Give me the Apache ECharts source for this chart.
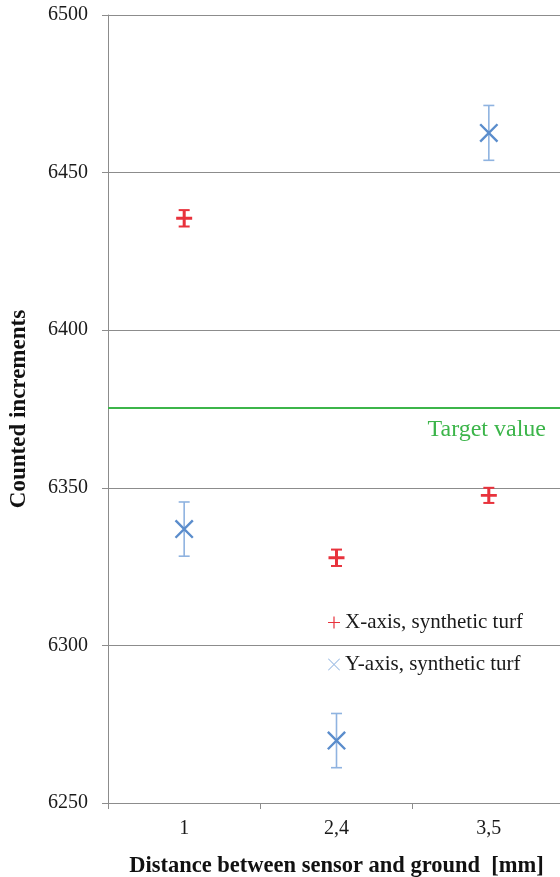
<!DOCTYPE html>
<html>
<head>
<meta charset="utf-8">
<script src="https://cdn.jsdelivr.net/npm/echarts@6/dist/echarts.min.js"></script>
<style>
  html, body { margin: 0; padding: 0; background: #fff; }
  #chart { width: 560px; height: 877px; }
</style>
</head>
<body>
<div id="chart"></div>
<script>
// Sensor distance categories (x axis)
const categories = ['1', '2,4', '3,5'];

// X-axis measurements on synthetic turf: mean and half error bar
const xAxisMeans = [6435.5, 6327.8, 6347.6];
const xAxisErrors = [2.6, 2.6, 2.4];

// Y-axis measurements on synthetic turf: mean and half error bar
const yAxisMeans = [6336.9, 6269.8, 6462.6];
const yAxisErrors = [8.6, 8.6, 8.7];

// Reference count
const targetValue = 6375.5;

// Value axis range
const yMin = 6250;
const yMax = 6500;
const yStep = 50;

const FONT = "'Liberation Serif', 'Times New Roman', serif";
const RED = '#e8323c';
const BLUE = '#5b8dcc';
const BLUE_LIGHT = '#8fb3e0';
const GREEN = '#3cb54a';

const plusPath = 'path://M0,5.7H14V8.3H0Z M5.7,0H8.3V14H5.7Z';
const crossPath = 'path://M0,1.8L1.8,0L20,18.2L18.2,20Z M18.2,0L20,1.8L1.8,20L0,18.2Z';
const plusThin = 'path://M0,6.3H14V7.7H0Z M6.3,0H7.7V14H6.3Z';
const crossThin = 'path://M0,1L1,0L20,19L19,20Z M19,0L20,1L1,20L0,19Z';

function errorData(means, errs) {
  return means.map((m, i) => [i, m - errs[i], m + errs[i]]);
}

function errorBarRenderer(color, width) {
  return function (params, api) {
    const lo = api.coord([api.value(0), api.value(1)]);
    const hi = api.coord([api.value(0), api.value(2)]);
    const half = 5.5;
    const style = { stroke: color, lineWidth: width };
    return {
      type: 'group',
      children: [
        { type: 'line', shape: { x1: lo[0], y1: lo[1], x2: hi[0], y2: hi[1] }, style },
        { type: 'line', shape: { x1: hi[0] - half, y1: hi[1], x2: hi[0] + half, y2: hi[1] }, style },
        { type: 'line', shape: { x1: lo[0] - half, y1: lo[1], x2: lo[0] + half, y2: lo[1] }, style }
      ]
    };
  };
}

const chart = echarts.init(document.getElementById('chart'), null, { renderer: 'canvas' });

chart.setOption({
  animation: false,
  backgroundColor: '#fff',
  textStyle: { fontFamily: FONT, color: '#1a1a1a' },
  grid: { left: 108, top: 15, right: -5, bottom: 74, containLabel: false, outerBoundsMode: 'none' },
  legend: {
    orient: 'vertical',
    left: 323,
    top: 607,
    itemWidth: 12,
    itemHeight: 12,
    itemGap: 21,
    textStyle: { fontFamily: FONT, fontSize: 21, color: '#1a1a1a' },
    data: [
      { name: 'X-axis, synthetic turf', icon: plusThin, itemStyle: { color: RED } },
      { name: 'Y-axis, synthetic turf', icon: crossThin, itemStyle: { color: BLUE_LIGHT } }
    ]
  },
  xAxis: {
    type: 'category',
    data: categories,
    boundaryGap: true,
    name: 'Distance between sensor and ground  [mm]',
    nameLocation: 'middle',
    nameGap: 52,
    nameTextStyle: { fontFamily: FONT, fontSize: 22.5, fontWeight: 'bold', color: '#111' },
    axisLine: { lineStyle: { color: '#8c8c8c', width: 1 } },
    axisTick: { show: true, length: 6, inside: false, lineStyle: { color: '#8c8c8c' } },
    axisLabel: { margin: 16, fontFamily: FONT, fontSize: 20, color: '#1a1a1a' },
    splitLine: { show: false }
  },
  yAxis: {
    type: 'value',
    min: yMin,
    max: yMax,
    interval: yStep,
    name: 'Counted increments',
    nameLocation: 'middle',
    nameGap: 77,
    nameTextStyle: { fontFamily: FONT, fontSize: 23, fontWeight: 'bold', color: '#111' },
    axisLine: { show: true, lineStyle: { color: '#8c8c8c', width: 1 } },
    axisTick: { show: true, length: 6, inside: false, lineStyle: { color: '#8c8c8c' } },
    axisLabel: {
      margin: 20,
      fontFamily: FONT,
      fontSize: 20,
      color: '#1a1a1a',
      formatter: (v) => String(v)
    },
    splitLine: { show: true, lineStyle: { color: '#8c8c8c', width: 1 } }
  },
  series: [
    {
      name: 'X-axis error',
      type: 'custom',
      renderItem: errorBarRenderer(RED, 2),
      data: errorData(xAxisMeans, xAxisErrors),
      encode: { x: 0, y: [1, 2] },
      z: 3,
      silent: true
    },
    {
      name: 'Y-axis error',
      type: 'custom',
      renderItem: errorBarRenderer(BLUE_LIGHT, 1.6),
      data: errorData(yAxisMeans, yAxisErrors),
      encode: { x: 0, y: [1, 2] },
      z: 3,
      silent: true
    },
    {
      name: 'X-axis, synthetic turf',
      type: 'scatter',
      data: xAxisMeans,
      symbol: plusPath,
      symbolSize: 16,
      itemStyle: { color: RED, opacity: 1 },
      z: 5,
      markLine: {
        silent: true,
        symbol: ['none', 'none'],
        data: [{ yAxis: targetValue }],
        lineStyle: { color: GREEN, width: 2, type: 'solid' },
        label: {
          show: true,
          position: 'insideEndBottom',
          formatter: 'Target value',
          fontFamily: FONT,
          fontSize: 24,
          color: GREEN,
          distance: [19, 10]
        }
      }
    },
    {
      name: 'Y-axis, synthetic turf',
      type: 'scatter',
      data: yAxisMeans,
      symbol: crossPath,
      symbolSize: 19,
      itemStyle: { color: BLUE, opacity: 1 },
      z: 5
    }
  ]
});
</script>
</body>
</html>
